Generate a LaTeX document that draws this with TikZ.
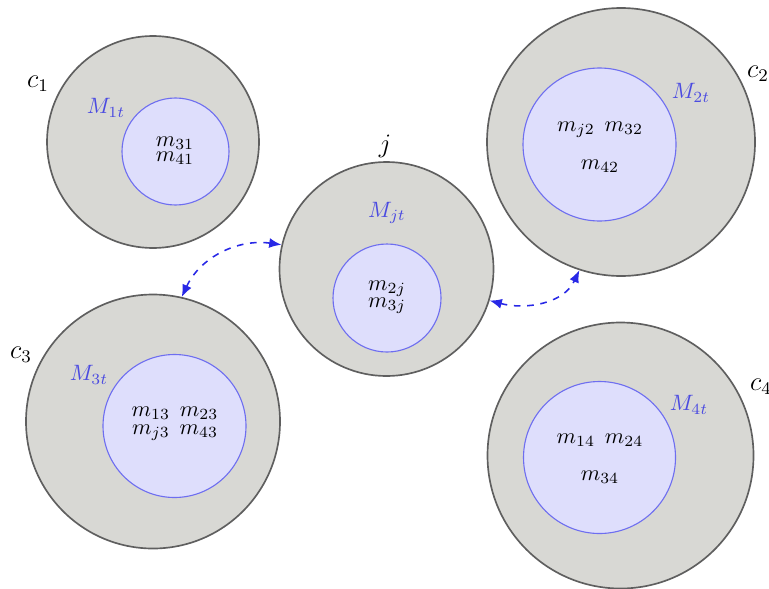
\documentclass[tikz,border=0pt]{standalone}
\usetikzlibrary{arrows.meta}
\definecolor{ringgray}{RGB}{216,216,212}
\definecolor{ringedge}{RGB}{95,95,95}
\definecolor{corefill}{RGB}{222,222,252}
\definecolor{coreedge}{RGB}{110,110,240}
\definecolor{setblue}{RGB}{75,75,225}
\definecolor{linkblue}{RGB}{40,40,230}
\tikzset{
  outer/.style={circle, draw=ringedge, fill=ringgray, line width=0.75pt,
                inner sep=0pt, minimum size=#1*0.9pt},
  core/.style={circle, draw=coreedge, fill=corefill, line width=0.5pt,
               inner sep=0pt, minimum size=#1*0.9pt},
  setlabel/.style={text=setblue, inner sep=0pt},
  clabel/.style={inner sep=0pt, font=\large},
  elem/.style={inner sep=0pt, align=center},
  link/.style={draw=linkblue, dashed, line width=0.7pt,
               {Latex[length=5.5pt,width=4.5pt]}-{Latex[length=5.5pt,width=4.5pt]}}
}
\begin{document}
\begin{tikzpicture}[x=0.45pt, y=-0.45pt]
  \useasboundingbox (0,0) rectangle (769,588);

  % outer clusters
  \node[outer=106] (c1) at (153,142) {};
  \node[outer=134] (c2) at (621,142) {};
  \node[outer=107] (j)  at (386.5,269) {};
  \node[outer=127] (c3) at (153,421.5) {};
  \node[outer=133] (c4) at (620.5,455.5) {};

  % inner sets
  \node[core=53.5] (k1) at (175.5,151.5) {};
  \node[core=76.5] (k2) at (599.5,144.5) {};
  \node[core=54]   (kj) at (387,298) {};
  \node[core=71.5] (k3) at (174.5,426) {};
  \node[core=76]   (k4) at (599.5,457.5) {};

  % cluster names
  \node[clabel] (l1) at (38,84)   {$c_1$};
  \node[clabel] (l2) at (758,74)  {$c_2$};
  \node[clabel] (lj) at (385,146) {$j$};
  \node[clabel] (l3) at (21,355)  {$c_3$};
  \node[clabel] (l4) at (761,387) {$c_4$};

  % set names
  \node[setlabel] (s1) at (106,108) {$M_{1t}$};
  \node[setlabel] (s2) at (691,93)  {$M_{2t}$};
  \node[setlabel] (sj) at (387,213) {$M_{jt}$};
  \node[setlabel] (s3) at (89,375)  {$M_{3t}$};
  \node[setlabel] (s4) at (689,405) {$M_{4t}$};

  % members of each set
  \node[elem] (e1) at (175,151) {$m_{31}$\\[-5.25pt]$m_{41}$};
  \node[elem] (e2) at (600,147) {$m_{j2}\;\, m_{32}$\\[5.1pt]$m_{42}$};
  \node[elem] (ej) at (387,297) {$m_{2j}$\\[-4.35pt]$m_{3j}$};
  \node[elem] (e3) at (175,424) {$m_{13}\;\, m_{23}$\\[-3.9pt]$m_{j3}\;\, m_{43}$};
  \node[elem] (e4) at (600,459) {$m_{14}\;\, m_{24}$\\[4.65pt]$m_{34}$};

  % communication links
  \draw[link] (c3.77) to[out=65,in=172] (j.167);
  \draw[link] (j.343) to[out=-15,in=245] (c2.252);
\end{tikzpicture}
\end{document}
